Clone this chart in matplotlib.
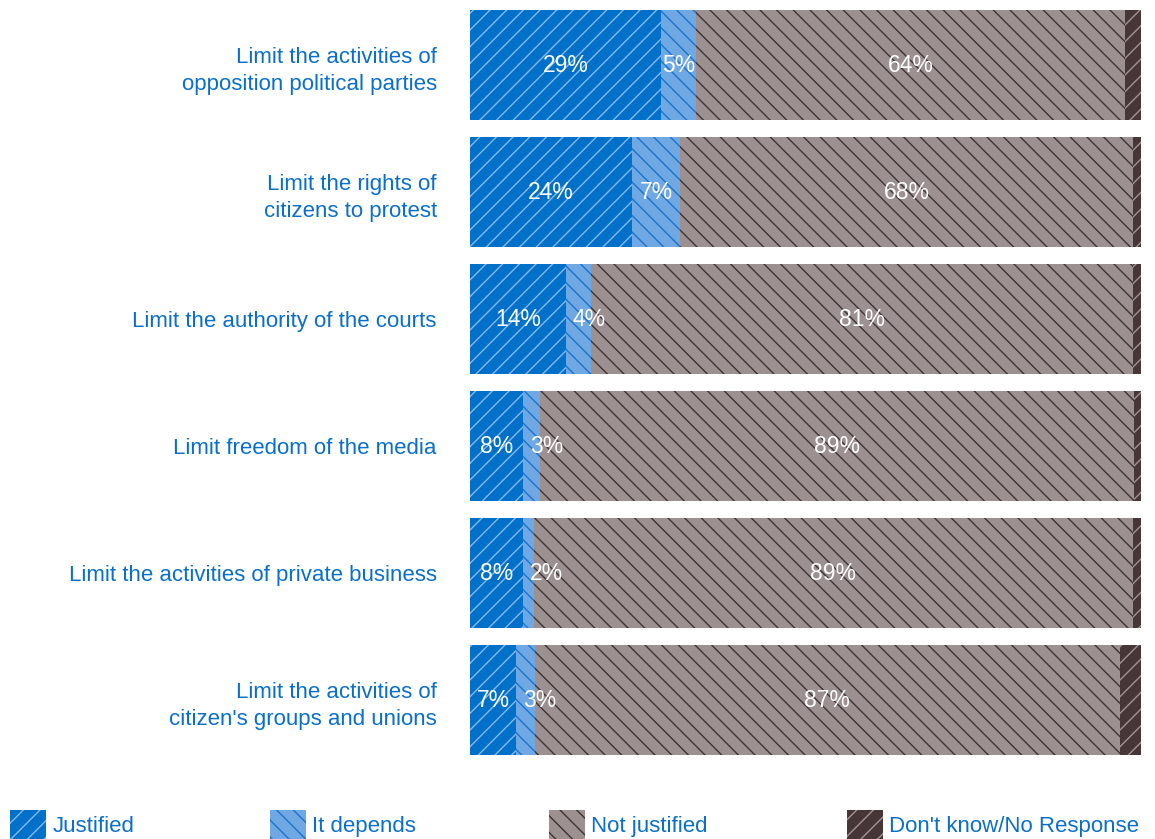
import matplotlib
matplotlib.use('Agg')
import matplotlib.pyplot as plt
from matplotlib.patches import Patch
import numpy as np

plt.rcParams['font.family'] = ['Liberation Sans', 'DejaVu Sans']
plt.rcParams['hatch.linewidth'] = 1.0

# Survey items, top to bottom
categories = [
    'Limit the activities of\nopposition political parties',
    'Limit the rights of\ncitizens to protest',
    'Limit the authority of the courts',
    'Limit freedom of the media',
    'Limit the activities of private business',
    "Limit the activities of\ncitizen's groups and unions",
]
series_names = ['Justified', 'It depends', 'Not justified', "Don't know/No Response"]

# segment widths (percent)
justified = [28.5, 24.1, 14.3, 7.9, 7.9, 6.9]
it_depends = [5.2, 7.2, 3.7, 2.5, 1.6, 2.7]
not_justified = [63.9, 67.5, 80.8, 88.6, 89.3, 87.2]
dont_know = [2.4, 1.2, 1.2, 1.0, 1.2, 3.2]

# printed labels
justified_lbl = [29, 24, 14, 8, 8, 7]
it_depends_lbl = [5, 7, 4, 3, 2, 3]
not_justified_lbl = [64, 68, 81, 89, 89, 87]

face_colors = ['#0070C9', '#6FA8E2', '#9D9090', '#473638']
hatch_colors = ['#86B8EC', '#1A74CC', '#3E3333', '#A09393']
hatches = ['//', '\\\\', '\\\\', '//']
text_blue = '#0A6FCB'

fig = plt.figure(figsize=(11.55, 8.39), dpi=100)
ax = fig.add_axes([0.407, 0.100, 0.581, 0.888])

y = np.arange(len(categories))
bar_h = 0.866
data = [justified, it_depends, not_justified, dont_know]
labels = [justified_lbl, it_depends_lbl, not_justified_lbl, None]
left = np.zeros(len(categories))
for i, vals in enumerate(data):
    vals = np.array(vals)
    ax.barh(y, vals, left=left, height=bar_h, color=face_colors[i],
            edgecolor=hatch_colors[i], hatch=hatches[i], linewidth=0)
    if labels[i] is not None:
        for j in range(len(categories)):
            if vals[j] < 5:
                ax.text(left[j] + 1.0, y[j], str(labels[i][j]) + '%', ha='left', va='center',
                        color='white', fontsize=16.5)
            else:
                ax.text(left[j] + vals[j] / 2, y[j], str(labels[i][j]) + '%', ha='center', va='center',
                        color='white', fontsize=16.5)
    left = left + vals

ax.set_xlim(0, 100)
ax.set_ylim(len(categories) - 1 + bar_h / 2, -bar_h / 2)
ax.set_yticks(y)
ax.set_yticklabels(categories, fontsize=16, color=text_blue, linespacing=1.4)
ax.tick_params(axis='y', length=0, pad=24)
ax.set_xticks([])
for s in ax.spines.values():
    s.set_visible(False)

# legend entries spread along the bottom
leg_x = [10, 270, 549, 847]
for i in range(4):
    h = Patch(facecolor=face_colors[i], edgecolor=hatch_colors[i], hatch=hatches[i], linewidth=0)
    leg = fig.legend([h], [series_names[i]], loc='lower left', bbox_to_anchor=(leg_x[i] / 1155, 0.0),
                     frameon=False, fontsize=16, handlelength=1.6, handleheight=1.6,
                     handletextpad=0.3, borderpad=0, borderaxespad=0)
    for t in leg.get_texts():
        t.set_color(text_blue)

fig.savefig('out.png', dpi=100)
